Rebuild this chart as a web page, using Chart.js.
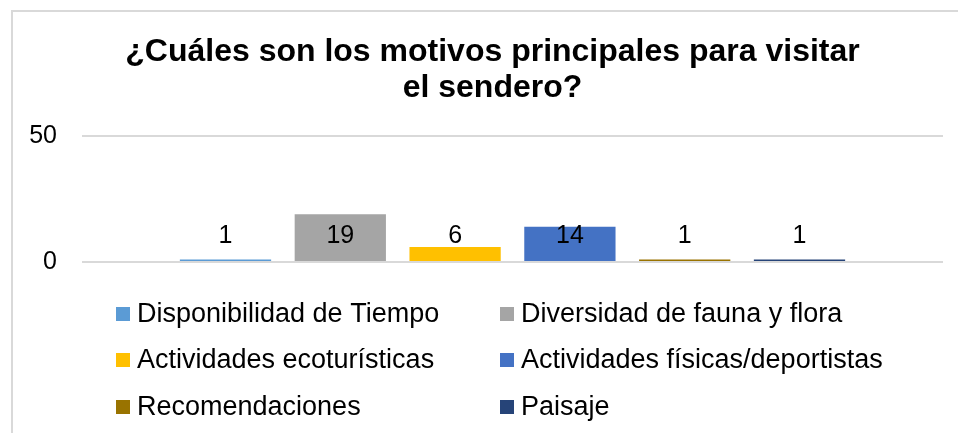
<!DOCTYPE html>
<html>
<head>
<meta charset="utf-8">
<script src="https://cdn.jsdelivr.net/npm/chart.js@4.4.1/dist/chart.umd.min.js"></script>
<style>
  html, body { margin: 0; padding: 0; background: #fff; overflow: hidden; }
  #wrap { position: absolute; left: 0; top: 0; width: 958px; height: 433px; }
  #frame { position: absolute; left: 11px; top: 10px; width: 1000px; height: 500px;
           border-left: 2px solid #d9d9d9; border-top: 2px solid #d9d9d9; pointer-events: none; }
</style>
</head>
<body>
<div id="wrap"><canvas id="motivosChart"></canvas></div>
<div id="frame"></div>
<script>
var titleLines = ['¿Cuáles son los motivos principales para visitar', 'el sendero?'];
var motivos = ['Disponibilidad de Tiempo', 'Diversidad de fauna y flora', 'Actividades ecoturísticas',
               'Actividades físicas/deportistas', 'Recomendaciones', 'Paisaje'];
var respuestas = [1, 19, 6, 14, 1, 1];
var colores = ['#5B9BD5', '#A5A5A5', '#FFC000', '#4472C4', '#997300', '#264478'];
var yTicks = [0, 50];

var FONT = "'Liberation Sans', Arial, sans-serif";

// value labels, all on one line just above the baseline (like the Excel picture)
var valueLabels = {
    id: 'valueLabels',
    afterDatasetsDraw: function(chart) {
        var ctx = chart.ctx;
        var y0 = chart.scales.y.getPixelForValue(0);
        ctx.save();
        ctx.font = '25px ' + FONT;
        ctx.fillStyle = '#000';
        ctx.textAlign = 'center';
        ctx.textBaseline = 'middle';
        chart.data.datasets.forEach(function(ds, i) {
            var bar = chart.getDatasetMeta(i).data[0];
            ctx.fillText(String(ds.data[0]), bar.x, y0 - 26);
        });
        ctx.restore();
    }
};

// legend in two columns, three rows
var gridLegend = {
    id: 'gridLegend',
    afterDraw: function(chart) {
        var ctx = chart.ctx;
        var cols = [116, 500];
        var rows = [314, 360, 407];
        ctx.save();
        ctx.font = '27px ' + FONT;
        ctx.textBaseline = 'middle';
        ctx.textAlign = 'left';
        chart.data.datasets.forEach(function(ds, i) {
            var x = cols[i % 2], y = rows[Math.floor(i / 2)];
            ctx.fillStyle = ds.backgroundColor;
            ctx.fillRect(x, y - 7, 14, 14);
            ctx.fillStyle = '#000';
            ctx.fillText(ds.label, x + 21, y + 1);
        });
        ctx.restore();
    }
};

// title is centred on the whole frame, a bit right of the canvas centre
var titleShift = {
    id: 'titleShift',
    afterLayout: function(chart) {
        chart.titleBlock.left += 8;
        chart.titleBlock.right += 8;
    }
};

var ctx = document.getElementById('motivosChart').getContext('2d');
var motivosChart = new Chart(ctx, {
    type: 'bar',
    data: {
        labels: [''],
        datasets: motivos.map(function(m, i) {
            return {
                label: m,
                data: [respuestas[i]],
                backgroundColor: colores[i],
                borderWidth: 0,
                categoryPercentage: 0.8,
                barPercentage: 0.795
            };
        })
    },
    options: {
        responsive: true,
        maintainAspectRatio: false,
        animation: false,
        layout: { padding: { left: 26, right: 15, top: 0, bottom: 171 } },
        plugins: {
            legend: { display: false },
            tooltip: { enabled: false },
            title: {
                display: true,
                text: titleLines,
                color: '#000',
                font: { family: FONT, size: 32, weight: 'bold', lineHeight: 1.1 },
                padding: { top: 35, bottom: 31 }
            }
        },
        scales: {
            x: { display: false },
            y: {
                min: yTicks[0],
                max: yTicks[yTicks.length - 1],
                afterBuildTicks: function(axis) {
                    axis.ticks = yTicks.map(function(v) { return { value: v }; });
                },
                afterFit: function(axis) { axis.width = 56; },
                border: { display: false },
                grid: { color: '#d9d9d9', lineWidth: 2, drawTicks: false },
                ticks: { color: '#000', padding: 25, font: { family: FONT, size: 25 } }
            }
        }
    },
    plugins: [valueLabels, gridLegend, titleShift]
});
</script>
</body>
</html>
